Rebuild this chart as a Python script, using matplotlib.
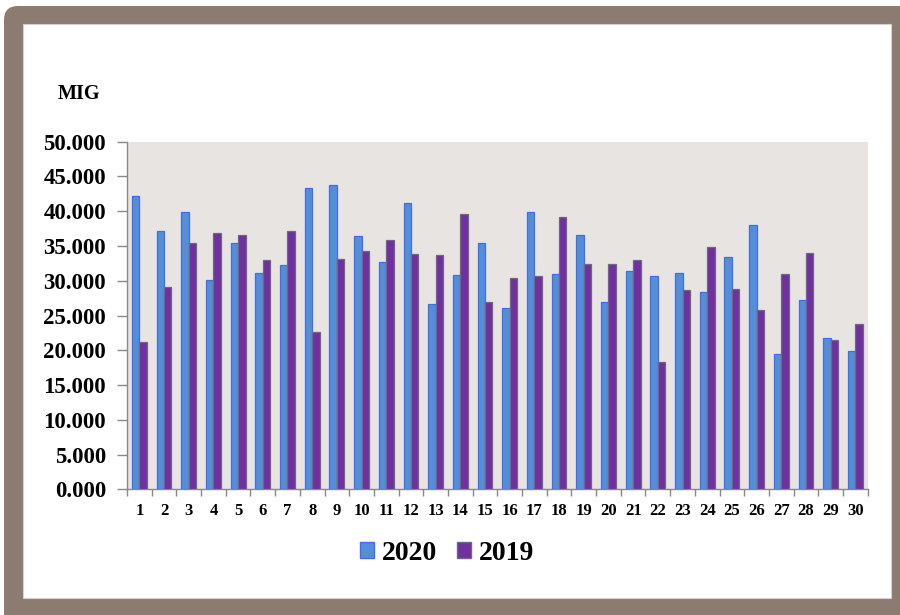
import matplotlib
matplotlib.use("Agg")
import matplotlib.pyplot as plt
from matplotlib.patches import FancyBboxPatch, Rectangle, Patch
from matplotlib.ticker import FuncFormatter, MultipleLocator
import numpy as np

days = list(range(1, 31))
values_2020 = [42200, 37150, 39950, 30100, 35400, 31050, 32300, 43350, 43750, 36400,
               32750, 41200, 26700, 30800, 35450, 26150, 39950, 30900, 36650, 26900,
               31400, 30700, 31100, 28450, 33400, 37950, 19400, 27200, 21700, 19900]
values_2019 = [21250, 29150, 35400, 36900, 36650, 32950, 37150, 22650, 33150, 34300,
               35800, 33800, 33700, 39550, 27000, 30350, 30750, 39100, 32350, 32350,
               32950, 18350, 28600, 34850, 28750, 25750, 30900, 33950, 21500, 23800]
series_labels = ["2020", "2019"]
unit_label = "MIG"

plt.rcParams['font.family'] = ['Liberation Serif', 'DejaVu Serif']
plt.rcParams['font.weight'] = 'bold'

fig = plt.figure(figsize=(9, 6.15), dpi=100)
fig.patch.set_facecolor('white')

# outer brown rounded frame and inner white panel (pixel coords)
frame = FancyBboxPatch((4, -20), 930, 629, boxstyle="round,pad=0,rounding_size=14",
                       transform=None, facecolor='#8C7B70', edgecolor='none', zorder=-10)
inner = Rectangle((23, 17), 868, 574, transform=None, facecolor='white',
                  edgecolor='#D9CFC9', linewidth=0.8, zorder=-9)
fig.patches.extend([frame, inner])

ax = fig.add_axes([127/900, 1 - 489.3/615, (867.7-127)/900, (489.3-141.7)/615])
ax.set_facecolor('#E8E4E2')

x = np.array(days, dtype=float)
w = 0.30
ax.bar(x - w/2, values_2020, width=w, color='#558ED5', edgecolor='#3F6CF5', linewidth=0.9, zorder=3)
ax.bar(x + w/2, values_2019, width=w, color='#7030A0', edgecolor='#6E6880', linewidth=0.9, zorder=3)

ax.set_xlim(0.5, 30.5)
ax.set_ylim(0, 50000)
ax.yaxis.set_major_locator(MultipleLocator(5000))
ax.yaxis.set_major_formatter(FuncFormatter(lambda v, p: f"{v/1000:.3f}"))

ax.set_xticks(x)
ax.set_xticklabels([str(d) for d in days])
ax.set_xticks(np.arange(0.5, 31.0, 1.0), minor=True)
ax.tick_params(axis='x', which='major', length=0, pad=10, labelsize=12)
ax.tick_params(axis='x', which='minor', length=5, width=1, color='#888888', direction='out')
ax.tick_params(axis='y', which='major', length=7, width=1, color='#888888', direction='out',
               pad=8, labelsize=16.5)
for lbl in ax.get_xticklabels() + ax.get_yticklabels():
    lbl.set_fontweight('bold')

for s in ['top', 'right']:
    ax.spines[s].set_visible(False)
for s in ['left', 'bottom']:
    ax.spines[s].set_color('#888888')
    ax.spines[s].set_linewidth(1)

fig.text(79/900, 1 - 94/615, unit_label, ha='center', va='center', fontsize=14.5, fontweight='bold')

handles = [Patch(facecolor='#558ED5', edgecolor='#3F6CF5', linewidth=1),
           Patch(facecolor='#7030A0', edgecolor='#6E6880', linewidth=1)]
fig.legend(handles, series_labels, loc='center', bbox_to_anchor=(0.497, 1 - 553/615), ncol=2,
           frameon=False, prop={'size': 20, 'weight': 'bold'}, handlelength=0.5, handleheight=0.5,
           handletextpad=0.3, columnspacing=0.7)

fig.savefig('out.png', dpi=100)
